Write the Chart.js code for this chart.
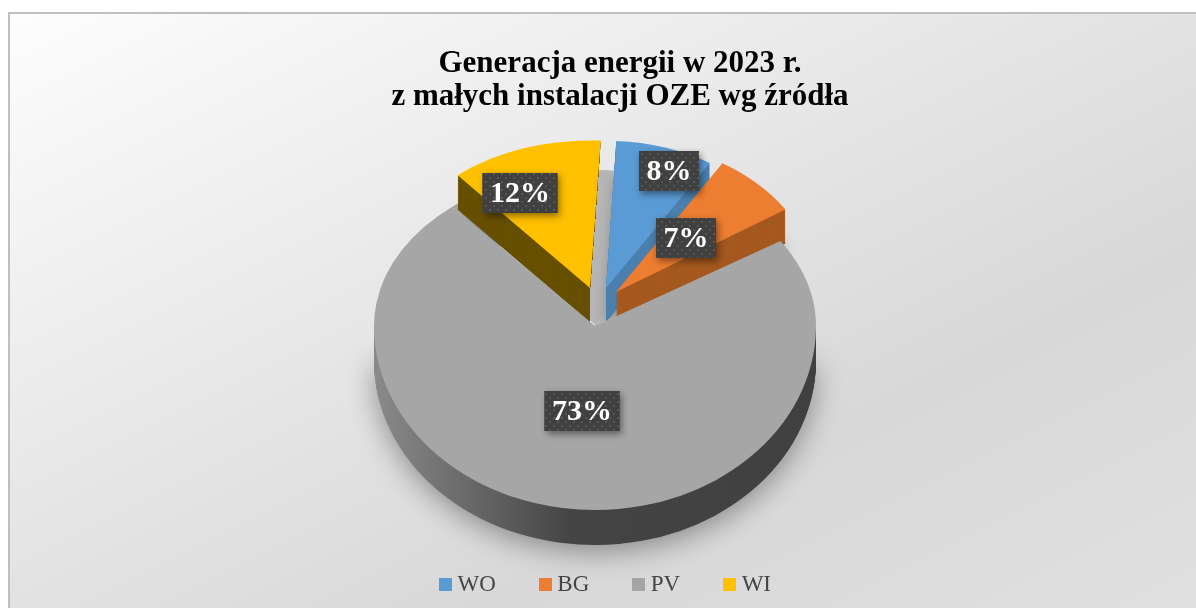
<!DOCTYPE html>
<html><head><meta charset="utf-8">
<style>
html,body{margin:0;padding:0;background:#fff;width:1196px;height:608px;overflow:hidden}
#frame{position:absolute;left:8px;top:12px;width:1188px;height:596px;border:2px solid #bfbfbf;border-right:none;border-bottom:none;box-sizing:border-box;
background:linear-gradient(to bottom right,#fdfdfd 0%,#e2e2e2 50%,#d8d8d8 70%,#e0e0e0 100%)}
canvas{position:absolute;left:0;top:0}
</style>
<script src="https://cdn.jsdelivr.net/npm/chart.js@4"></script>
</head><body>
<div id="frame"></div>
<canvas id="c" width="1196" height="608"></canvas>
<script>
const categories = ['WO','BG','PV','WI'];
const shares = [8,7,73,12];
const topColors = ['#5b9bd5','#ed7d31','#a5a5a5','#ffc000'];
const sideColors = ['#4a7fae','#a5591f',null,'#675000'];
const titleLines = ['Generacja energii w 2023 r.','z małych instalacji OZE wg źródła'];
const labelCentres = [[669,171],[686,238],[582,411],[520,193]];
const sliceGeom = [
  {x:606,y:288,r:197,sy:0.747},
  {x:616,y:292,r:202,sy:0.75},
  {x:595,y:326,r:221,syTop:0.706,syBottom:0.833},
  {x:590,y:288,r:205,sy:0.72}
];
const DEPTH = 35;
const SERIF = '"Liberation Serif","DejaVu Serif",serif';

function paintArc(ctx, arc, g, sy, fill, dy, clip){
  ctx.save();
  if(clip){ctx.beginPath();ctx.rect(clip[0],clip[1],clip[2],clip[3]);ctx.clip();}
  ctx.translate(g.x,g.y+dy);
  ctx.scale(1,sy);
  const s={x:arc.x,y:arc.y,o:arc.outerRadius,i:arc.innerRadius,op:arc.options};
  arc.x=0;arc.y=0;arc.outerRadius=g.r;arc.innerRadius=0;
  arc.options={backgroundColor:fill,borderColor:fill,borderWidth:0,offset:0,spacing:0,circular:true,borderRadius:0,borderAlign:'center',borderJoinStyle:'round',borderDash:[],borderDashOffset:0,selfJoin:false};
  arc.draw(ctx);
  arc.x=s.x;arc.y=s.y;arc.outerRadius=s.o;arc.innerRadius=s.i;arc.options=s.op;
  ctx.restore();
}
function swatch(color){
  const c=document.createElement('canvas');c.width=13;c.height=13;
  const t=c.getContext('2d');t.fillStyle=color;t.fillRect(0,0,13,13);
  return c;
}
const pie3d = {
  id:'pie3d',
  afterLayout(chart){
    chart.titleBlock.left+=22;chart.titleBlock.right+=22;
    chart.legend.left+=10;chart.legend.right+=10;
  },
  beforeDatasetsDraw(chart){
    const ctx=chart.ctx, arcs=chart.getDatasetMeta(0).data;
    const pv=arcs[2], gp=sliceGeom[2];
    // soft shadow below the disc
    ctx.save();
    ctx.shadowColor='rgba(0,0,0,0.4)';ctx.shadowBlur=30;ctx.shadowOffsetY=6;
    ctx.translate(gp.x,gp.y+DEPTH);ctx.scale(1,gp.syBottom);
    ctx.fillStyle='#555';
    ctx.beginPath();ctx.arc(0,0,gp.r-1,0,Math.PI);ctx.closePath();ctx.fill();
    ctx.restore();
    // PV side
    const bottomClip=[0,gp.y,1196,400];
    for(let d=DEPTH;d>0;d--){
      const grad=ctx.createLinearGradient(-gp.r,0,gp.r,0);
      grad.addColorStop(0,'#8a8a8a');grad.addColorStop(0.18,'#6e6e6e');grad.addColorStop(0.45,'#444');grad.addColorStop(1,'#404040');
      paintArc(ctx,pv,gp,gp.syBottom,grad,d,bottomClip);
    }
    // light inner wall seen through the gap between the pulled-out slices
    const notchClip=[0,0,1196,gp.y+1];
    paintArc(ctx,arcs[3],gp,gp.syTop,'#a6a6a6',0,[0,0,500,gp.y+1]);
    paintArc(ctx,arcs[3],Object.assign({},gp,{x:gp.x+2}),gp.syTop,'#b6b6b6',0,[500,0,696,gp.y+1]);
    paintArc(ctx,arcs[0],gp,gp.syTop,'#b6b6b6',0,notchClip);
    paintArc(ctx,arcs[1],gp,gp.syTop,'#b6b6b6',0,[590,250,50,gp.y+1-250]);
    // side walls of the pulled-out slices, partly hidden by the PV top
    [3,0,1].forEach(i=>{
      const g=sliceGeom[i],a=arcs[i];
      ctx.save();
      if(i===3){ // the wall of WI only shows on its left
        const ex=g.x+g.r*Math.cos(a.endAngle), ey=g.y+g.r*g.sy*Math.sin(a.endAngle);
        ctx.beginPath();ctx.moveTo(g.x,g.y);ctx.lineTo(ex,ey);ctx.lineTo(0,ey);ctx.lineTo(0,500);ctx.lineTo(g.x,500);ctx.closePath();ctx.clip();
      }
      ctx.save();
      ctx.shadowColor='rgba(0,0,0,0.3)';ctx.shadowBlur=14;ctx.shadowOffsetY=4;
      paintArc(ctx,a,g,g.sy,sideColors[i],DEPTH-1,null);
      ctx.restore();
      for(let d=DEPTH-1;d>0;d--) paintArc(ctx,a,g,g.sy,sideColors[i],d,null);
      ctx.restore();
    });
    // PV top, upper and lower parts of the perspective ellipse
    paintArc(ctx,pv,gp,gp.syTop,'#a6a6a6',0,[0,0,1196,gp.y]);
    paintArc(ctx,pv,gp,gp.syBottom,'#a6a6a6',0,[0,gp.y-0.5,1196,400]);
    // tops of the pulled-out slices
    [3,0,1].forEach(i=>paintArc(ctx,arcs[i],sliceGeom[i],sliceGeom[i].sy,topColors[i],0,null));
    return false;
  },
  afterDraw(chart){
    const ctx=chart.ctx;
    const tile=document.createElement('canvas');tile.width=8;tile.height=8;
    const t=tile.getContext('2d');t.fillStyle='#404040';t.fillRect(0,0,8,8);
    t.fillStyle='#565656';t.fillRect(1,1,2,2);t.fillRect(5,5,2,2);
    const pat=ctx.createPattern(tile,'repeat');
    shares.forEach((v,i)=>{
      const [x,y]=labelCentres[i];
      const text=v+'%';
      ctx.save();
      ctx.font='bold 30px '+SERIF;
      const w=ctx.measureText(text).width+15, h=40;
      ctx.shadowColor='rgba(0,0,0,0.45)';ctx.shadowBlur=7;ctx.shadowOffsetX=2;ctx.shadowOffsetY=3;
      ctx.fillStyle='#404040';ctx.fillRect(x-w/2,y-h/2,w,h);
      ctx.shadowColor='transparent';
      ctx.fillStyle=pat;ctx.fillRect(x-w/2,y-h/2,w,h);
      ctx.fillStyle='#fff';ctx.textAlign='center';ctx.textBaseline='middle';
      ctx.fillText(text,x,y+1);
      ctx.restore();
    });
  }
};
new Chart(document.getElementById('c'),{
  type:'pie',
  data:{labels:categories,datasets:[{data:shares,backgroundColor:topColors,borderWidth:0}]},
  options:{
    responsive:false,animation:false,rotation:3,
    layout:{padding:{top:47,bottom:2}},
    plugins:{
      tooltip:{enabled:false},
      title:{display:true,text:titleLines,color:'#000',padding:{top:0,bottom:0},
        font:{family:SERIF,size:31,weight:'bold',lineHeight:1.07}},
      legend:{display:true,position:'bottom',
        labels:{color:'#444',usePointStyle:true,pointStyleWidth:1,boxHeight:13,padding:49,
          font:{family:SERIF,size:23},
          generateLabels(chart){
            return Chart.overrides.doughnut.plugins.legend.labels.generateLabels(chart)
              .map((it,i)=>Object.assign(it,{pointStyle:swatch(topColors[i])}));
          }}}
    }
  },
  plugins:[pie3d]
});
</script>
</body></html>
